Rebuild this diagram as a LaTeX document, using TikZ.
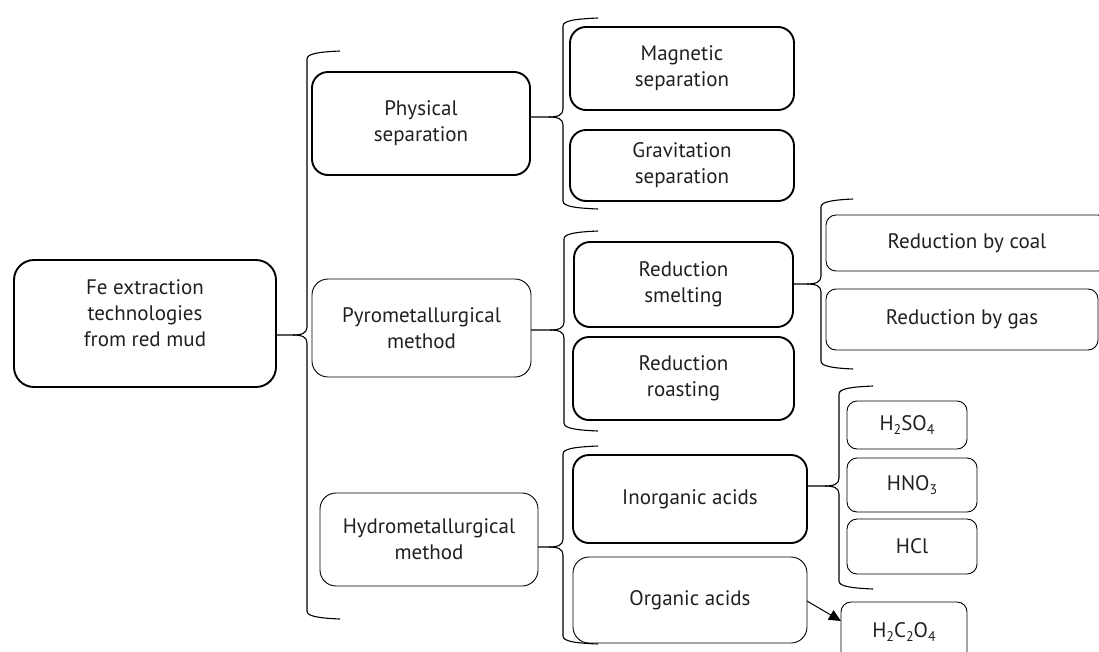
\documentclass[tikz,border=0pt]{standalone}
\usepackage{fontspec}
\setmainfont{PT Sans}
\usetikzlibrary{arrows.meta,calc}
\definecolor{txtc}{RGB}{35,31,32}
\newcommand\sbs[1]{\raisebox{-0.45ex}{\fontsize{14}{14}\selectfont #1}}
\tikzset{
  boxbase/.style={draw=black, rounded corners=#1, anchor=north west, inner sep=0pt, outer sep=0pt,
    align=center, text=txtc, font=\fontsize{21}{26}\selectfont},
  thickbox/.style={boxbase=16pt, line width=1.9pt},
  thinbox/.style={boxbase=16pt, line width=0.9pt},
  smallbox/.style={boxbase=10pt, line width=0.9pt},
  bracel/.style={draw=black, line width=1.1pt},
  arr/.style={draw=black, line width=1pt, -{Triangle[length=12pt,width=11pt]}}
}
% #1 parent node, #2 tip y, #3 line x, #4 top y, #5 bottom y, #6 end x
\newcommand\curlyb[6]{%
  \draw[bracel] (#6,#4-4) .. controls (#3+10,#4-3) and (#3,#4-1) .. (#3,#4+4)
     -- (#3,#2-8) .. controls (#3,#2-2) and (#3-5,#2) .. (#3-14,#2) -- (#1.east |- 0,#2);
  \draw[bracel] (#3-14,#2) .. controls (#3-5,#2) and (#3,#2+2) .. (#3,#2+8)
     -- (#3,#5-4) .. controls (#3,#5+1) and (#3+10,#5+3) .. (#6,#5+4);
}
\begin{document}
\begin{tikzpicture}[x=1pt,y=-1pt]
\useasboundingbox (0,0) rectangle (1099,651);
% level 0
\node[thickbox=20pt, rounded corners=20pt, minimum width=262pt, minimum height=127pt] (main) at (14,260) {};
\node[text=txtc, align=center, font=\fontsize{21}{26}\selectfont] (maintxt) at ($(main.center)+(0,-10)$) {Fe extraction\\technologies\\from red mud};
% level 1
\node[thickbox, minimum width=218pt, minimum height=103pt] (phys) at (312,72) {Physical\\separation};
\node[thinbox, minimum width=219pt, minimum height=98pt] (pyro) at (312,279) {Pyrometallurgical\\method};
\node[thinbox, minimum width=218pt, minimum height=93pt] (hydro) at (320,493) {Hydrometallurgical\\method};
% level 2
\node[thickbox, minimum width=224pt, minimum height=83pt] (mag) at (570,27) {Magnetic\\separation};
\node[thickbox, minimum width=224pt, minimum height=71pt] (grav) at (570,130) {Gravitation\\separation};
\node[thickbox, minimum width=219pt, minimum height=85pt] (smelt) at (574,242) {Reduction\\smelting};
\node[thickbox, minimum width=221pt, minimum height=83pt] (roast) at (573,337) {Reduction\\roasting};
\node[thickbox, minimum width=234pt, minimum height=88pt] (inorg) at (573,455) {Inorganic acids};
\node[thinbox, minimum width=234pt, minimum height=86pt] (org) at (573,557) {Organic acids};
% level 3
\node[smallbox, minimum width=282pt, minimum height=56pt] (coal) at (826,215) {Reduction by coal};
\node[smallbox, minimum width=272pt, minimum height=61pt] (gas) at (826,289) {Reduction by gas};
\node[smallbox, minimum width=120pt, minimum height=48pt] (hso) at (847,401) {H\sbs{2}SO\sbs{4}};
\node[smallbox, minimum width=130pt, minimum height=54pt] (hno) at (847,458) {HNO\sbs{3}};
\node[smallbox, minimum width=130pt, minimum height=55pt] (hcl) at (847,519) {HCl};
\node[smallbox, minimum width=126pt, minimum height=60pt] (hco) at (841,602) {H\sbs{2}C\sbs{2}O\sbs{4}};
% braces
\curlyb{main}{335}{307}{55}{615}{340}
\curlyb{phys}{117}{563}{22}{205}{598}
\curlyb{pyro}{330}{564}{235}{427}{598}
\curlyb{hydro}{547}{563}{450}{640}{598}
\curlyb{smelt}{284}{821}{203}{365}{853}
\curlyb{inorg}{486}{839}{390}{585}{873}
% arrow
\draw[arr] (org.east |- 0,601) -- (hco.west |- 0,621);
\end{tikzpicture}
\end{document}
